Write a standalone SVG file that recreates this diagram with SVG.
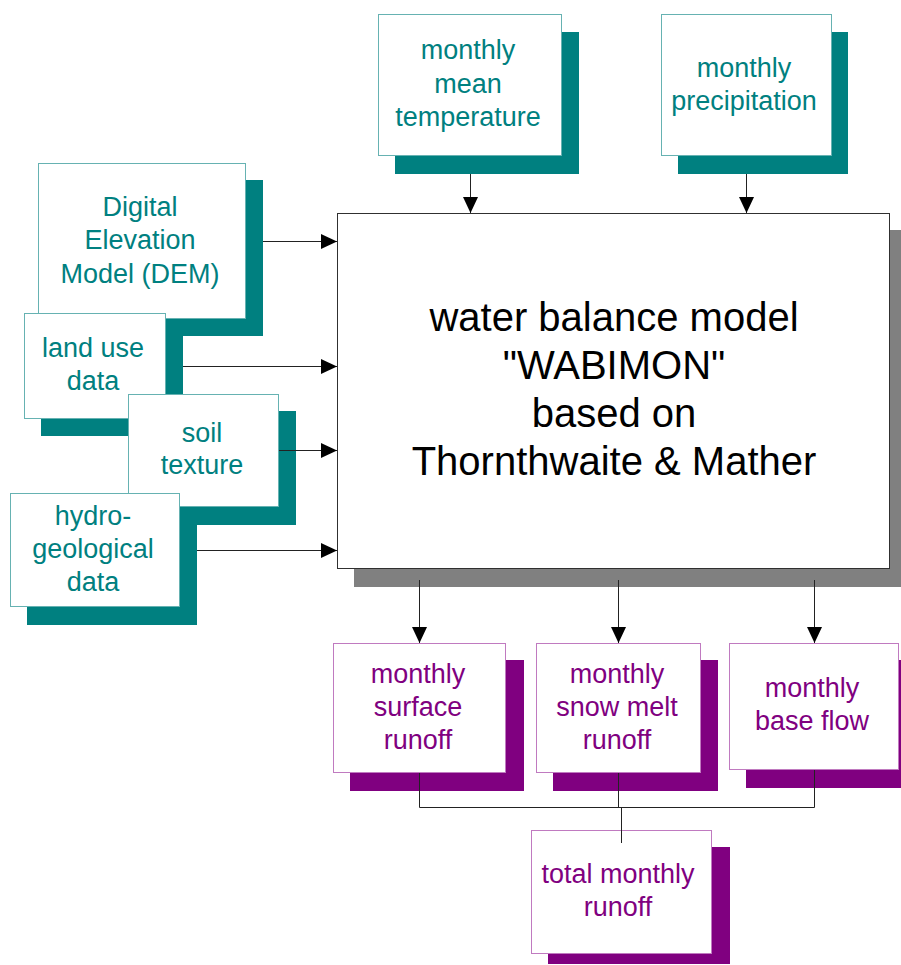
<svg xmlns="http://www.w3.org/2000/svg" width="901" height="965" viewBox="0 0 901 965">
<defs>
<marker id="ah" markerUnits="userSpaceOnUse" markerWidth="16" markerHeight="15" refX="16" refY="7.5" orient="auto">
<path d="M0,0 L16,7.5 L0,15 z" fill="#000"/>
</marker>
<style>
.tsh{fill:#008080}
.tbox{fill:#fff;stroke:#66b2b2;stroke-width:1}
.psh{fill:#800080}
.pbox{fill:#fff;stroke:#c07ac0;stroke-width:1}
.gsh{fill:#808080}
.mbox{fill:#fff;stroke:#303030;stroke-width:1}
text{font-family:"Liberation Sans",Arial,sans-serif;text-anchor:middle}
.tt{fill:#008080;font-size:27px}
.pt{fill:#800080;font-size:27px}
.mt{fill:#000;font-size:40px}
.c{fill:none;stroke:#222;stroke-width:1}
.a{fill:none;stroke:#222;stroke-width:1;marker-end:url(#ah)}
</style>
</defs>
<rect width="901" height="965" fill="#fff"/>

<g id="main">
<rect class="gsh" x="354" y="230" width="553" height="357"/>
<rect class="mbox" x="337.5" y="213.5" width="552" height="355"/>
<text class="mt" x="614" y="331">water balance model</text>
<text class="mt" x="614" y="379">"WABIMON"</text>
<text class="mt" x="614" y="427">based on</text>
<text class="mt" x="614" y="475">Thornthwaite &amp; Mather</text>
</g>

<g id="temperature">
<rect class="tsh" x="395" y="32" width="184" height="142"/>
<rect class="tbox" x="378.5" y="14.5" width="183" height="141"/>
<text class="tt" x="468" y="59">monthly</text>
<text class="tt" x="468" y="93">mean</text>
<text class="tt" x="468" y="126">temperature</text>
</g>

<g id="precipitation">
<rect class="tsh" x="678" y="32" width="170" height="142"/>
<rect class="tbox" x="661.5" y="14.5" width="170" height="141"/>
<text class="tt" x="744" y="77">monthly</text>
<text class="tt" x="744" y="110">precipitation</text>
</g>

<g id="dem">
<rect class="tsh" x="55" y="180" width="208" height="156"/>
<rect class="tbox" x="38.5" y="163.5" width="207" height="155"/>
<text class="tt" x="140" y="216">Digital</text>
<text class="tt" x="140" y="249">Elevation</text>
<text class="tt" x="140" y="283">Model (DEM)</text>
</g>

<g id="landuse">
<rect class="tsh" x="41" y="330" width="142" height="106"/>
<rect class="tbox" x="24.5" y="313.5" width="141" height="105"/>
<text class="tt" x="93" y="357">land use</text>
<text class="tt" x="93" y="390">data</text>
</g>

<g id="soil">
<rect class="tsh" x="145" y="411" width="151" height="114"/>
<rect class="tbox" x="128.5" y="394.5" width="150" height="112"/>
<text class="tt" x="202" y="442">soil</text>
<text class="tt" x="202" y="474">texture</text>
</g>

<g id="hydro">
<rect class="tsh" x="27" y="510" width="170" height="115"/>
<rect class="tbox" x="10.5" y="493.5" width="169" height="113"/>
<text class="tt" x="93" y="525">hydro-</text>
<text class="tt" x="93" y="558">geological</text>
<text class="tt" x="93" y="591">data</text>
</g>

<g id="surface">
<rect class="psh" x="350" y="660" width="174" height="131"/>
<rect class="pbox" x="333.5" y="643.5" width="172" height="129"/>
<text class="pt" x="418" y="683">monthly</text>
<text class="pt" x="418" y="716">surface</text>
<text class="pt" x="418" y="749">runoff</text>
</g>

<g id="snowmelt">
<rect class="psh" x="553" y="660" width="165" height="131"/>
<rect class="pbox" x="536.5" y="643.5" width="164" height="129"/>
<text class="pt" x="617" y="683">monthly</text>
<text class="pt" x="617" y="716">snow melt</text>
<text class="pt" x="617" y="749">runoff</text>
</g>

<g id="baseflow">
<rect class="psh" x="746" y="660" width="170" height="128"/>
<rect class="pbox" x="729.5" y="643.5" width="169" height="126"/>
<text class="pt" x="812" y="697">monthly</text>
<text class="pt" x="812" y="730">base flow</text>
</g>

<g id="total">
<rect class="psh" x="548" y="847" width="182" height="117"/>
<rect class="pbox" x="531.5" y="830.5" width="180" height="123"/>
<text class="pt" x="618" y="883">total monthly</text>
<text class="pt" x="618" y="916">runoff</text>
</g>

<g id="connectors">
<line class="a" x1="470.5" y1="174" x2="470.5" y2="213"/>
<line class="a" x1="746.5" y1="174" x2="746.5" y2="213"/>
<line class="a" x1="263" y1="241.5" x2="337" y2="241.5"/>
<line class="a" x1="183" y1="366.5" x2="337" y2="366.5"/>
<line class="a" x1="279" y1="450.5" x2="337" y2="450.5"/>
<line class="a" x1="197" y1="550.5" x2="337" y2="550.5"/>
<line class="a" x1="419.5" y1="580" x2="419.5" y2="643"/>
<line class="a" x1="618.5" y1="580" x2="618.5" y2="643"/>
<line class="a" x1="814.5" y1="580" x2="814.5" y2="643"/>
<polyline class="c" points="419.5,773 419.5,807.5 814.5,807.5 814.5,770"/>
<line class="c" x1="618.5" y1="773" x2="618.5" y2="807.5"/>
<line class="c" x1="621.5" y1="807.5" x2="621.5" y2="843"/>
</g>
</svg>
